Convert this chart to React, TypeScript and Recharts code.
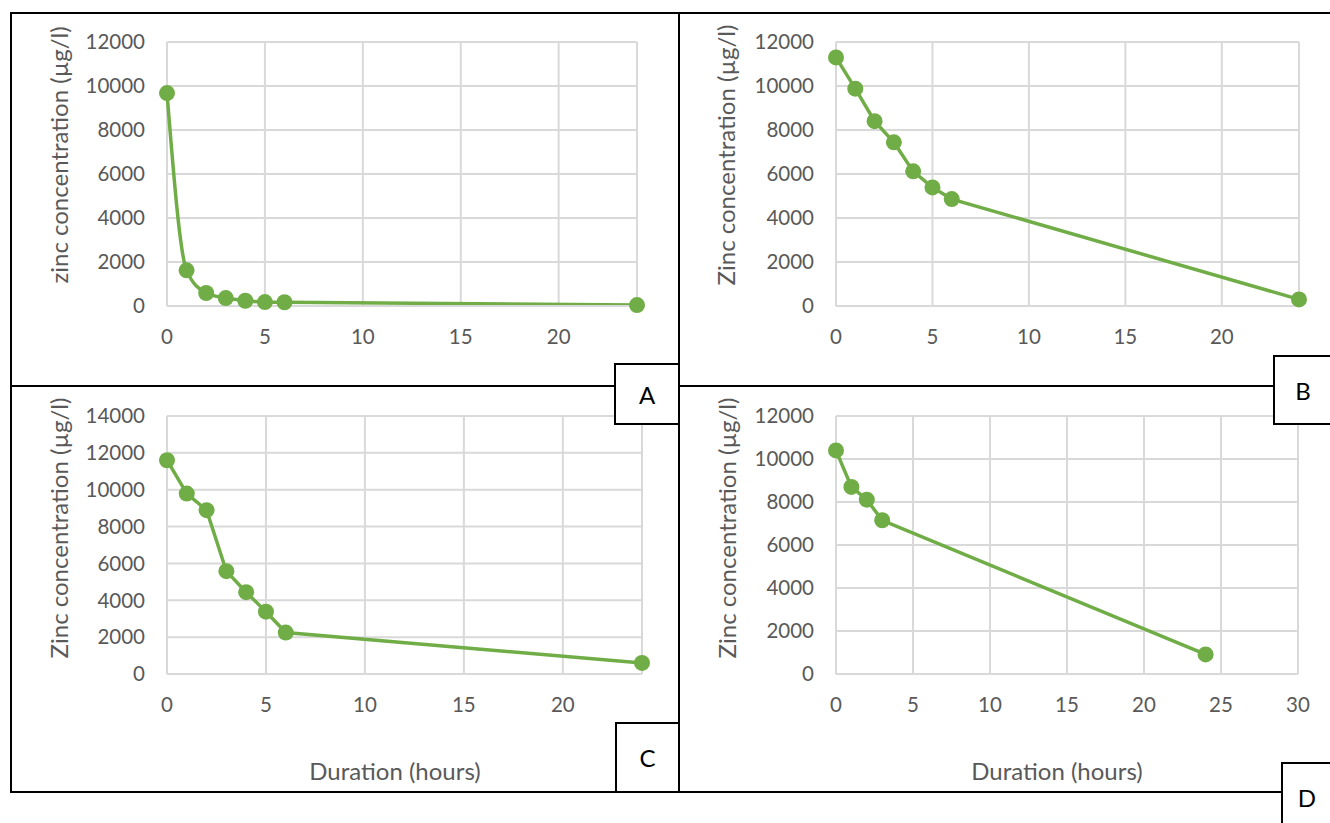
import React from "react";
import { LineChart, Line, XAxis, YAxis, CartesianGrid } from "recharts";

// sampling times (hours) and zinc readings (µg/l) per panel
const hours = [0, 1, 2, 3, 4, 5, 6, 24];
const hoursD = [0, 1, 2, 3, 24];
const zincA = [9680, 1620, 590, 360, 240, 180, 170, 40];
const zincB = [11300, 9880, 8400, 7440, 6120, 5390, 4860, 300];
const zincC = [11600, 9790, 8890, 5580, 4440, 3380, 2250, 600];
const zincD = [10400, 8700, 8110, 7150, 910];

const xTicks24 = [0, 5, 10, 15, 20];
const xTicks30 = [0, 5, 10, 15, 20, 25, 30];
const yTicks12 = [0, 2000, 4000, 6000, 8000, 10000, 12000];
const yTicks14 = [0, 2000, 4000, 6000, 8000, 10000, 12000, 14000];

const yTitleLower = "zinc concentration (µg/l)";
const yTitleUpper = "Zinc concentration (µg/l)";
const xTitle = "Duration (hours)";

const FONT = "Lato, 'Open Sans', sans-serif";
const GREEN = "#70ad47";
const GREY = "#595959";
const GRID = "#d9d9d9";

const toRows = (xs: number[], ys: number[]) => xs.map((h, i) => ({ hours: h, zinc: ys[i] }));

function Title({ px, py, rot, text }: { px: number; py: number; rot?: number; text: string }) {
  return (
    <text
      x={px}
      y={py}
      transform={rot ? `rotate(${rot}, ${px}, ${py})` : undefined}
      textAnchor="middle"
      dominantBaseline="central"
      fill={GREY}
      fontSize={24}
      fontFamily={FONT}
    >
      {text}
    </text>
  );
}

type PanelProps = {
  box: { left: number; top: number; width: number; height: number };
  plot: { left: number; top: number; right: number; bottom: number };
  rows: { hours: number; zinc: number }[];
  curve: "monotone" | "linear";
  xMax: number;
  xTicks: number[];
  yMax: number;
  yTicks: number[];
  yTitle: string;
  yTitleAt: [number, number];
  xTitleAt?: [number, number];
};

function Panel({ box, plot, rows, curve, xMax, xTicks, yMax, yTicks, yTitle, yTitleAt, xTitleAt }: PanelProps) {
  const yAxisWidth = plot.left - box.left;
  const xAxisHeight = box.top + box.height - plot.bottom;
  const margin = { top: plot.top - box.top, right: box.left + box.width - plot.right, bottom: 0, left: 0 };
  const tick = { fill: GREY, fontSize: 20.5, fontFamily: FONT };
  return (
    <div style={{ position: "absolute", left: box.left, top: box.top }}>
      <LineChart width={box.width} height={box.height} data={rows} margin={margin}>
        <CartesianGrid stroke={GRID} strokeWidth={2} />
        <XAxis
          type="number"
          dataKey="hours"
          domain={[0, xMax]}
          ticks={xTicks}
          interval={0}
          height={xAxisHeight}
          tick={tick}
          tickLine={false}
          tickSize={0}
          tickMargin={23}
          axisLine={{ stroke: GRID, strokeWidth: 2 }}
          label={
            xTitleAt ? (
              <Title px={xTitleAt[0] - box.left} py={xTitleAt[1] - box.top} text={xTitle} />
            ) : undefined
          }
        />
        <YAxis
          type="number"
          domain={[0, yMax]}
          ticks={yTicks}
          interval={0}
          width={yAxisWidth}
          tick={tick}
          tickLine={false}
          tickSize={0}
          tickMargin={22}
          axisLine={false}
          label={<Title px={yTitleAt[0] - box.left} py={yTitleAt[1] - box.top} rot={-90} text={yTitle} />}
        />
        <Line
          type={curve}
          dataKey="zinc"
          stroke={GREEN}
          strokeWidth={3.5}
          dot={{ r: 8, fill: GREEN, stroke: GREEN, strokeWidth: 0 }}
          activeDot={false}
          isAnimationActive={false}
        />
      </LineChart>
    </div>
  );
}

function Rule({ x, y, w, h }: { x: number; y: number; w: number; h: number }) {
  return <div style={{ position: "absolute", left: x, top: y, width: w, height: h, background: "#000" }} />;
}

function Letter({ x, y, w, h, text }: { x: number; y: number; w: number; h: number; text: string }) {
  return (
    <div
      style={{
        position: "absolute",
        left: x,
        top: y,
        width: w,
        height: h,
        boxSizing: "border-box",
        border: "2px solid #000",
        background: "#fff",
        display: "flex",
        alignItems: "center",
        justifyContent: "center",
        fontFamily: FONT,
        fontSize: 24,
        color: "#000",
      }}
    >
      {text}
    </div>
  );
}

export default function App() {
  return (
    <div
      style={{
        position: "absolute",
        left: 0,
        top: 0,
        width: 1330,
        height: 823,
        background: "#fff",
        overflow: "hidden",
        fontFamily: FONT,
      }}
    >
      <Panel
        box={{ left: 11, top: 13, width: 668, height: 373 }}
        plot={{ left: 167, top: 42, right: 637, bottom: 306 }}
        rows={toRows(hours, zincA)}
        curve="monotone"
        xMax={24}
        xTicks={xTicks24}
        yMax={12000}
        yTicks={yTicks12}
        yTitle={yTitleLower}
        yTitleAt={[58, 155]}
      />
      <Panel
        box={{ left: 679, top: 13, width: 651, height: 373 }}
        plot={{ left: 836, top: 42, right: 1299, bottom: 306 }}
        rows={toRows(hours, zincB)}
        curve="linear"
        xMax={24}
        xTicks={xTicks24}
        yMax={12000}
        yTicks={yTicks12}
        yTitle={yTitleUpper}
        yTitleAt={[725, 155]}
      />
      <Panel
        box={{ left: 11, top: 386, width: 668, height: 406 }}
        plot={{ left: 167, top: 416, right: 642, bottom: 674 }}
        rows={toRows(hours, zincC)}
        curve="linear"
        xMax={24}
        xTicks={xTicks24}
        yMax={14000}
        yTicks={yTicks14}
        yTitle={yTitleUpper}
        yTitleAt={[58, 528]}
        xTitleAt={[395, 770]}
      />
      <Panel
        box={{ left: 679, top: 386, width: 651, height: 406 }}
        plot={{ left: 836, top: 416, right: 1298, bottom: 674 }}
        rows={toRows(hoursD, zincD)}
        curve="linear"
        xMax={30}
        xTicks={xTicks30}
        yMax={12000}
        yTicks={yTicks12}
        yTitle={yTitleUpper}
        yTitleAt={[726, 528]}
        xTitleAt={[1057, 770]}
      />

      {/* panel frames */}
      <Rule x={10} y={12} w={1320} h={2} />
      <Rule x={10} y={385} w={1320} h={2} />
      <Rule x={10} y={791} w={1320} h={2} />
      <Rule x={10} y={12} w={2} h={781} />
      <Rule x={678} y={12} w={2} h={781} />

      <Letter x={614} y={363} w={66} h={62} text="A" />
      <Letter x={1273} y={355} w={60} h={70} text="B" />
      <Letter x={615} y={722} w={65} h={71} text="C" />
      <Letter x={1281} y={762} w={52} h={70} text="D" />
    </div>
  );
}
